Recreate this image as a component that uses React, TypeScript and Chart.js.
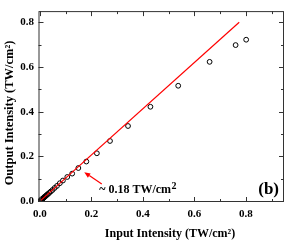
import React, { useEffect, useRef } from "react";
import { Chart, registerables } from "chart.js";
Chart.register(...registerables);

const inputIntensity = [
  0.801, 0.76, 0.659, 0.537, 0.429, 0.342, 0.272, 0.221, 0.18, 0.149, 0.125,
  0.106, 0.089, 0.077, 0.066, 0.057, 0.049, 0.042, 0.036, 0.031, 0.027, 0.023,
  0.02, 0.017, 0.0145, 0.0125, 0.0107, 0.009, 0.0077, 0.0065, 0.0055, 0.0045,
  0.0035, 0.0027, 0.002, 0.0013,
];
const outputIntensity = [
  0.722, 0.698, 0.623, 0.516, 0.422, 0.336, 0.269, 0.214, 0.177, 0.148, 0.123,
  0.108, 0.092, 0.08, 0.068, 0.059, 0.05, 0.043, 0.037, 0.032, 0.028, 0.024,
  0.021, 0.018, 0.015, 0.013, 0.011, 0.0093, 0.008, 0.0067, 0.0057, 0.0047,
  0.0036, 0.0028, 0.0021, 0.0014,
];
const fitX = [0, 0.774];
const fitY = [0, 0.8];
const xMajorTicks = [0, 0.2, 0.4, 0.6, 0.8];
const xMinorTicks = [0.1, 0.3, 0.5, 0.7, 0.9];
const yMajorTicks = [0, 0.2, 0.4, 0.6, 0.8];
const yMinorTicks = [0.1, 0.3, 0.5, 0.7];
const xTitle = "Input Intensity (TW/cm²)";
const yTitle = "Output Intensity (TW/cm²)";
const annotationText = "~ 0.18 TW/cm";

const FONT = "'Liberation Serif', 'Times New Roman', serif";

const framePlugin = {
  id: "frameTicks",
  afterDraw(chart: any) {
    const { ctx, chartArea: a, scales } = chart;
    const xs = scales.x;
    const ys = scales.y;
    ctx.save();
    ctx.strokeStyle = "#333";
    ctx.lineWidth = 1;
    ctx.strokeRect(a.left + 0.5, a.top + 0.5, a.right - a.left - 1, a.bottom - a.top - 1);
    const drawX = (v: number, len: number) => {
      const p = Math.round(xs.getPixelForValue(v)) + 0.5;
      ctx.beginPath();
      ctx.moveTo(p, a.bottom);
      ctx.lineTo(p, a.bottom - len);
      ctx.moveTo(p, a.top);
      ctx.lineTo(p, a.top + len);
      ctx.stroke();
    };
    const drawY = (v: number, len: number) => {
      const p = Math.round(ys.getPixelForValue(v)) + 0.5;
      ctx.beginPath();
      ctx.moveTo(a.left, p);
      ctx.lineTo(a.left + len, p);
      ctx.moveTo(a.right, p);
      ctx.lineTo(a.right - len, p);
      ctx.stroke();
    };
    xMajorTicks.forEach((v) => drawX(v, 5));
    xMinorTicks.forEach((v) => drawX(v, 3));
    yMajorTicks.forEach((v) => drawY(v, 5));
    yMinorTicks.forEach((v) => drawY(v, 3));

    // arrow
    const tx = xs.getPixelForValue(0.24);
    const ty = ys.getPixelForValue(0.077);
    const hx = xs.getPixelForValue(0.172);
    const hy = ys.getPixelForValue(0.129);
    ctx.strokeStyle = "#ff0000";
    ctx.fillStyle = "#ff0000";
    ctx.lineWidth = 1.2;
    const ang = Math.atan2(hy - ty, hx - tx);
    const hl = 6;
    const bx = hx - hl * Math.cos(ang);
    const by = hy - hl * Math.sin(ang);
    ctx.beginPath();
    ctx.moveTo(tx, ty);
    ctx.lineTo(bx, by);
    ctx.stroke();
    ctx.beginPath();
    ctx.moveTo(hx, hy);
    ctx.lineTo(bx + 2.5 * Math.sin(ang), by - 2.5 * Math.cos(ang));
    ctx.lineTo(bx - 2.5 * Math.sin(ang), by + 2.5 * Math.cos(ang));
    ctx.closePath();
    ctx.fill();

    // annotation text
    ctx.fillStyle = "#000";
    ctx.textBaseline = "alphabetic";
    ctx.textAlign = "left";
    ctx.font = `bold 12px ${FONT}`;
    const lx = xs.getPixelForValue(0.23);
    const ly = ys.getPixelForValue(0.036);
    ctx.fillText(annotationText, lx, ly);
    const w = ctx.measureText(annotationText).width;
    ctx.font = `bold 10px ${FONT}`;
    ctx.fillText("2", lx + w + 0.5, ly - 4.5);

    // (b)
    ctx.font = `bold 17px ${FONT}`;
    ctx.textAlign = "right";
    ctx.textBaseline = "middle";
    ctx.fillText("(b)", a.right - 5, ys.getPixelForValue(0.05));

    // axis titles
    ctx.font = `bold 12px ${FONT}`;
    ctx.textAlign = "center";
    ctx.textBaseline = "middle";
    ctx.fillText(xTitle, 170, 234);
    ctx.save();
    ctx.translate(10, 113);
    ctx.rotate(-Math.PI / 2);
    ctx.font = `bold 12.5px ${FONT}`;
    ctx.fillText(yTitle, 0, 0);
    ctx.restore();
    ctx.restore();
  },
};

export default function App() {
  const ref = useRef<HTMLCanvasElement>(null);
  useEffect(() => {
    document.body.style.margin = "0";
    const canvas = ref.current!;
    const chart = new Chart(canvas, {
      type: "scatter",
      data: {
        datasets: [
          {
            type: "line",
            data: fitX.map((x, i) => ({ x, y: fitY[i] })),
            borderColor: "#ff0000",
            borderWidth: 1.2,
            pointRadius: 0,
            fill: false,
          } as any,
          {
            data: inputIntensity.map((x, i) => ({ x, y: outputIntensity[i] })),
            pointStyle: "circle",
            pointRadius: 2.4,
            borderColor: "#000",
            borderWidth: 1,
            backgroundColor: "rgba(0,0,0,0)",
          },
        ],
      },
      options: {
        animation: false,
        responsive: false,
        devicePixelRatio: 1,
        layout: { padding: { top: 1, right: 2, left: 0, bottom: 0 } },
        plugins: { legend: { display: false }, tooltip: { enabled: false } },
        scales: {
          x: {
            type: "linear",
            min: -0.0058,
            max: 0.948,
            grid: { display: false, drawTicks: false },
            border: { display: false },
            afterFit: (s: any) => {
              s.height = 40;
            },
            afterBuildTicks: (s: any) => {
              s.ticks = xMajorTicks.map((v) => ({ value: v }));
            },
            ticks: {
              padding: 6,
              color: "#000",
              font: { family: FONT, size: 11, weight: "bold" },
              callback: (v: any) => Number(v).toFixed(1),
            },
            title: { display: false },
          },
          y: {
            type: "linear",
            min: -0.004,
            max: 0.85,
            grid: { display: false, drawTicks: false },
            border: { display: false },
            afterFit: (s: any) => {
              s.width = 38.5;
            },
            afterBuildTicks: (s: any) => {
              s.ticks = yMajorTicks.map((v) => ({ value: v }));
            },
            ticks: {
              padding: 4.5,
              color: "#000",
              font: { family: FONT, size: 11, weight: "bold" },
              callback: (v: any) => Number(v).toFixed(1),
            },
            title: { display: false },
          },
        },
      },
      plugins: [framePlugin],
    });
    return () => chart.destroy();
  }, []);
  return <canvas ref={ref} width={289} height={242} style={{ display: "block", width: 289, height: 242 }} />;
}
